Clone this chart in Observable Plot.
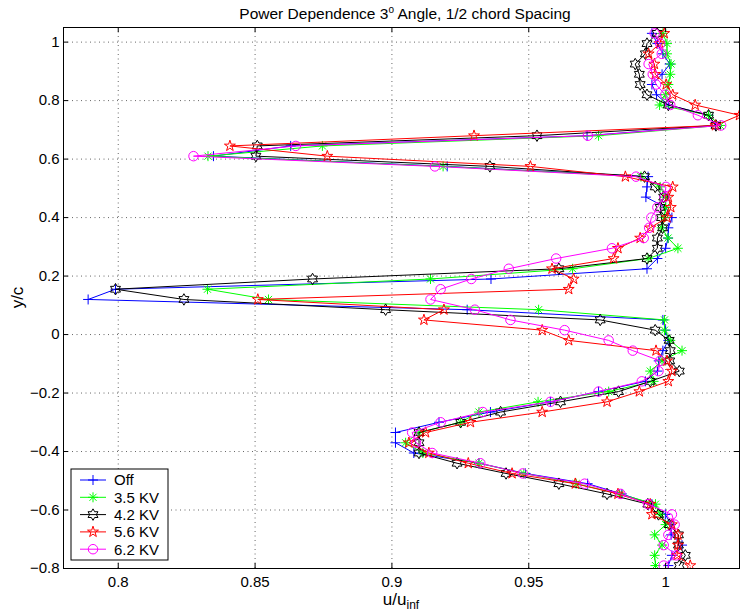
<!DOCTYPE html>
<html><head><meta charset="utf-8">
<script src="https://cdn.jsdelivr.net/npm/d3@7"></script>
<script src="https://cdn.jsdelivr.net/npm/@observablehq/plot@0.6"></script>
<style>
html,body{margin:0;padding:0;background:#fff;}
#chart{width:740px;height:613px;}
svg{font-family:"Liberation Sans",Arial,Helvetica,sans-serif;}
</style></head><body><div id="chart"></div>
<script>
// y/c stations (top to bottom)
const yc = [1.03,0.995,0.96,0.925,0.89,0.855,0.82,0.785,0.75,0.715,0.68,0.645,0.61,0.575,0.54,0.505,0.47,0.435,0.40,0.365,0.33,0.295,0.26,0.225,0.19,0.155,0.12,0.085,0.05,0.015,-0.02,-0.055,-0.09,-0.125,-0.16,-0.195,-0.23,-0.265,-0.30,-0.335,-0.37,-0.405,-0.44,-0.475,-0.51,-0.545,-0.58,-0.615,-0.65,-0.685,-0.72,-0.755,-0.79];

const xOff = [0.995,0.997,0.999,1.0015,0.9987,0.995,0.9967,1.001,1.0157,1.0182,0.9713,0.863,0.8348,0.9202,0.9936,0.9932,0.9928,1.0,1.0023,1.001,1.0009,1.0,0.997,0.9932,0.9362,0.799,0.789,0.9275,0.999,1.0,1.001,0.999,0.9975,0.997,0.9926,0.9755,0.9579,0.936,0.9172,0.9013,0.9013,0.908,0.9318,0.9488,0.9715,0.984,0.995,0.9999,1.002,1.002,1.006,1.0023,1.001];

const x35 = [0.999,1.0005,1.0005,1.002,1.0017,1.001,0.9999,0.9978,1.0157,1.02,0.9755,0.8746,0.8328,0.9187,0.991,0.998,1.0,1.0,0.9995,0.9986,1.0009,1.0045,0.9936,0.966,0.9141,0.8326,0.8549,0.9536,0.9996,0.9996,1.0017,1.006,0.9987,0.9944,0.9956,0.9792,0.9534,0.9318,0.9251,0.9099,0.905,0.9113,0.9318,0.9482,0.9673,0.9832,0.9963,0.998,1.0,0.996,0.9987,0.996,0.9963];

const x42 = [0.9969,0.9932,0.9926,0.9889,0.9904,0.9907,0.9932,1.001,1.0157,1.0184,0.953,0.8508,0.8503,0.9358,0.9923,0.9962,0.9993,0.998,0.9985,0.9989,0.997,0.997,0.9932,0.961,0.871,0.799,0.824,0.8977,0.9761,0.9962,1.0013,1.0017,1.0015,1.005,0.9944,0.9828,0.9616,0.9397,0.9251,0.9099,0.9099,0.9099,0.9238,0.9417,0.961,0.9786,0.9935,0.9974,1.0013,1.0047,1.0047,1.0072,1.005];

const x56 = [0.9995,0.9978,0.9938,0.9959,0.9962,1.0002,1.0026,1.0108,1.027,1.0182,0.930,0.8408,0.8764,0.9506,0.9853,1.0026,1.001,1.0019,1.0005,0.9944,0.9907,0.9826,0.981,0.9585,0.9664,0.9646,0.851,0.919,0.9117,0.9549,0.9646,0.9965,1.0005,1.0023,1.001,0.9904,0.9786,0.9549,0.9287,0.9123,0.9062,0.9135,0.9279,0.9439,0.967,0.9826,0.9944,0.995,1.0023,1.0045,1.0045,1.0042,1.009];

const x62 = [0.996,0.998,0.9986,0.9938,0.9953,0.9965,0.9999,1.0017,1.0118,1.0203,0.9716,0.8649,0.8275,0.9157,0.9892,1.0001,0.9996,0.997,0.9948,0.994,0.992,0.9804,0.96,0.9427,0.929,0.9178,0.9141,0.9303,0.9433,0.9631,0.9792,0.988,0.998,0.9974,0.9913,0.9755,0.9579,0.9332,0.9178,0.9074,0.9088,0.9147,0.9323,0.9478,0.9704,0.9835,0.9936,1.0023,1.0033,1.001,0.9993,1.0039,0.9993];

const seriesNames = ["Off","3.5 KV","4.2 KV","5.6 KV","6.2 KV"];
const seriesColors = ["#0000ff","#00ff00","#000000","#ff0000","#ff00ff"];
const xTicks = [0.8,0.85,0.9,0.95,1];
const xTickLabels = ["0.8","0.85","0.9","0.95","1"];
const yTicks = [-0.8,-0.6,-0.4,-0.2,0,0.2,0.4,0.6,0.8,1];
const yTickLabels = ["\u22120.8","\u22120.6","\u22120.4","\u22120.2","0","0.2","0.4","0.6","0.8","1"];

// MATLAB-like marker shapes
const rad = s => Math.sqrt(s / Math.PI);
function star(ctx, r, ri, n) {
  for (let i = 0; i < 2 * n; i++) {
    const a = -Math.PI / 2 + i * Math.PI / n;
    const rr = i % 2 ? ri : r;
    const px = rr * Math.cos(a), py = rr * Math.sin(a);
    if (i === 0) ctx.moveTo(px, py); else ctx.lineTo(px, py);
  }
  ctx.closePath();
}
const symbols = [
  {draw(ctx, s) { const r = rad(s); ctx.moveTo(-r, 0); ctx.lineTo(r, 0); ctx.moveTo(0, -r); ctx.lineTo(0, r); }},
  {draw(ctx, s) { const r = rad(s), d = r * Math.SQRT1_2; ctx.moveTo(-r, 0); ctx.lineTo(r, 0); ctx.moveTo(0, -r); ctx.lineTo(0, r); ctx.moveTo(-d, -d); ctx.lineTo(d, d); ctx.moveTo(-d, d); ctx.lineTo(d, -d); }},
  {draw(ctx, s) { const r = rad(s) * 1.15; star(ctx, r, r / Math.sqrt(3), 6); }},
  {draw(ctx, s) { const r = rad(s) * 1.15; star(ctx, r, r * 0.382, 5); }},
  {draw(ctx, s) { const r = rad(s) * 0.95; ctx.moveTo(r, 0); ctx.arc(0, 0, r, 0, 2 * Math.PI); }}
];

const seriesX = [xOff, x35, x42, x56, x62];
const seriesData = seriesX.map(xs => yc.map((y, i) => ({x: xs[i], y})));

const W = 740, H = 613, mL = 63, mR = 1, mT = 27, mB = 45;
const fw = W - mL - mR, fh = H - mT - mB;

const marks = [
  Plot.gridX(xTicks, {stroke: "#000", strokeOpacity: 0.6, strokeDasharray: "1,3.5"}),
  Plot.gridY(yTicks, {stroke: "#000", strokeOpacity: 0.6, strokeDasharray: "1,3.5"}),
];
seriesData.forEach((d, i) => {
  marks.push(Plot.line(d, {x: "x", y: "y", stroke: seriesColors[i], strokeWidth: 1, clip: true}));
  marks.push(Plot.dot(d, {x: "x", y: "y", stroke: seriesColors[i], fill: "none", strokeWidth: 1, r: 5, symbol: symbols[i], clip: true}));
});
marks.push(
  Plot.tickX(xTicks, {x: d => d, insetTop: fh - 5, stroke: "#000"}),
  Plot.tickX(xTicks, {x: d => d, insetBottom: fh - 5, stroke: "#000"}),
  Plot.tickY(yTicks, {y: d => d, insetRight: fw - 5, stroke: "#000"}),
  Plot.tickY(yTicks, {y: d => d, insetLeft: fw - 5, stroke: "#000"}),
  Plot.frame({stroke: "#000", strokeWidth: 1}),
  Plot.axisX(xTicks, {tickSize: 0, tickPadding: 8, fontSize: 15, tickFormat: d => xTickLabels[xTicks.indexOf(d)], label: null}),
  Plot.axisY(yTicks, {tickSize: 0, tickPadding: 4, fontSize: 15, tickFormat: d => yTickLabels[yTicks.indexOf(d)], label: null})
);

const plot = Plot.plot({
  width: W, height: H, marginLeft: mL, marginRight: mR, marginTop: mT, marginBottom: mB,
  style: {fontFamily: '"Liberation Sans",Arial,sans-serif', color: "#000", background: "#fff"},
  x: {domain: [0.78, 1.027]},
  y: {domain: [-0.8, 1.05]},
  marks
});
document.getElementById("chart").appendChild(plot);

const svg = d3.select(plot);
// title
const t = svg.append("text").attr("x", 405).attr("y", 18.5).attr("text-anchor", "middle").attr("font-size", 15.5).attr("fill", "#000");
t.append("tspan").text("Power Dependence 3");
t.append("tspan").attr("font-size", 10).attr("dy", -6).text("o");
t.append("tspan").attr("dy", 6).text(" Angle, 1/2 chord Spacing");
// x label
const xl = svg.append("text").attr("x", 401).attr("y", 605).attr("text-anchor", "middle").attr("font-size", 17).attr("fill", "#000");
xl.append("tspan").text("u/u");
xl.append("tspan").attr("font-size", 12).attr("dy", 4).text("inf");
// y label
svg.append("text").attr("transform", `translate(23,${mT + fh / 2}) rotate(-90)`).attr("text-anchor", "middle").attr("font-size", 17).attr("fill", "#000").text("y/c");

// legend
const lg = svg.append("g").attr("text-anchor", "start");
lg.append("rect").attr("x", 71).attr("y", 469).attr("width", 97).attr("height", 91).attr("fill", "#fff").attr("stroke", "#000");
seriesNames.forEach((name, i) => {
  const yy = 480 + i * 17.3;
  lg.append("line").attr("x1", 80).attr("x2", 106).attr("y1", yy).attr("y2", yy).attr("stroke", seriesColors[i]);
  const p = d3.path(); symbols[i].draw(p, Math.PI * 25);
  lg.append("path").attr("d", p.toString()).attr("transform", `translate(93,${yy})`).attr("fill", "none").attr("stroke", seriesColors[i]);
  lg.append("text").attr("x", 114).attr("y", yy).attr("dy", "0.36em").attr("text-anchor", "start").attr("font-size", 15).attr("fill", "#000").text(name);
});
</script></body></html>
